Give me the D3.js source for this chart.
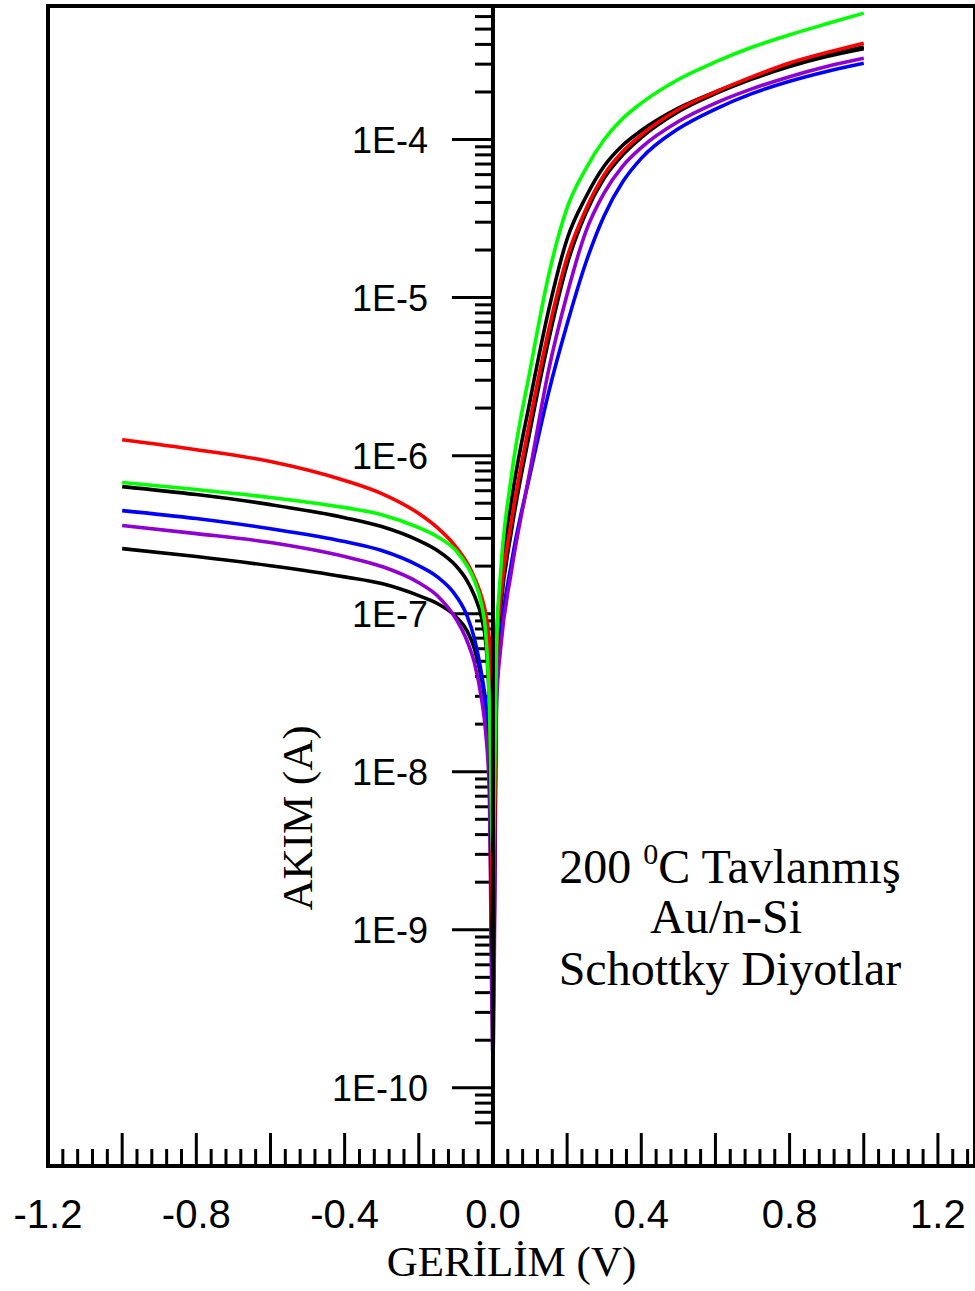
<!DOCTYPE html>
<html><head><meta charset="utf-8">
<script src="https://cdn.jsdelivr.net/npm/d3@7"></script>
<style>body{margin:0;background:#fff}svg{display:block}</style>
</head><body>
<svg id="chart" width="975" height="1291"></svg>
<script>
// Voltage (V)
const voltage = [-1.0, -0.8, -0.6, -0.4, -0.3, -0.2, -0.15, -0.1, -0.07, -0.05, -0.03, -0.02, -0.01, 0, 0.01, 0.02, 0.05, 0.1, 0.15, 0.2, 0.25, 0.3, 0.35, 0.4, 0.5, 0.6, 0.7, 0.8, 0.9, 1.0];
// Current (A) per diode
const currentRed = [1.26e-6, 1.09e-6, 9.18e-7, 6.96e-7, 5.75e-7, 4.30e-7, 3.50e-7, 2.65e-7, 2.10e-7, 1.69e-7, 1.26e-7, 1.01e-7, 6.74e-8, 1.0e-9, 5.83e-8, 1.21e-7, 3.88e-7, 1.67e-6, 6.19e-6, 1.80e-5, 3.6e-5, 6.0e-5, 8.4e-5, 1.07e-4, 1.55e-4, 2.0e-4, 2.5e-4, 3.05e-4, 3.55e-4, 4.07e-4];
const currentGreen = [6.76e-7, 6.10e-7, 5.43e-7, 4.69e-7, 4.23e-7, 3.50e-7, 3.07e-7, 2.51e-7, 2.01e-7, 1.62e-7, 1.12e-7, 7.79e-8, 2.81e-8, 2.94e-9, 6.74e-8, 1.74e-7, 7.48e-7, 3.46e-6, 1.38e-5, 3.7e-5, 6.5e-5, 1.0e-4, 1.36e-4, 1.7e-4, 2.4e-4, 3.1e-4, 3.85e-4, 4.6e-4, 5.4e-4, 6.31e-4];
const currentBlackA = [6.37e-7, 5.67e-7, 4.90e-7, 4.05e-7, 3.56e-7, 2.90e-7, 2.51e-7, 2.01e-7, 1.62e-7, 1.30e-7, 9.29e-8, 6.74e-8, 2.81e-8, 6.0e-10, 6.74e-8, 1.50e-7, 5.20e-7, 2.23e-6, 8.30e-6, 2.35e-5, 4.3e-5, 6.8e-5, 9.2e-5, 1.14e-4, 1.58e-4, 2.0e-4, 2.45e-4, 2.95e-4, 3.42e-4, 3.85e-4];
const currentBlue = [4.49e-7, 4.00e-7, 3.45e-7, 2.86e-7, 2.51e-7, 2.01e-7, 1.71e-7, 1.30e-7, 9.71e-8, 6.95e-8, 4.05e-8, 2.81e-8, 1.36e-8, 4.0e-10, 3.25e-8, 6.74e-8, 2.10e-7, 7.6e-7, 2.5e-6, 6.8e-6, 1.65e-5, 3.3e-5, 5.4e-5, 7.6e-5, 1.17e-4, 1.56e-4, 1.96e-4, 2.34e-4, 2.7e-4, 3.04e-4];
const currentPurple = [3.61e-7, 3.21e-7, 2.82e-7, 2.30e-7, 1.99e-7, 1.57e-7, 1.30e-7, 9.29e-8, 6.74e-8, 4.90e-8, 2.81e-8, 1.82e-8, 7.57e-9, 1.64e-10, 2.81e-8, 5.83e-8, 1.87e-7, 8.05e-7, 3.46e-6, 1.05e-5, 2.6e-5, 4.6e-5, 6.8e-5, 8.9e-5, 1.3e-4, 1.7e-4, 2.1e-4, 2.5e-4, 2.9e-4, 3.27e-4];
const currentBlackB = [2.58e-7, 2.30e-7, 2.01e-7, 1.71e-7, 1.55e-7, 1.30e-7, 1.16e-7, 9.57e-8, 7.79e-8, 6.00e-8, 3.76e-8, 2.61e-8, 1.17e-8, 2.8e-10, 5.04e-8, 1.04e-7, 3.36e-7, 1.44e-6, 5.36e-6, 1.62e-5, 3.4e-5, 5.7e-5, 8.0e-5, 1.03e-4, 1.50e-4, 1.95e-4, 2.42e-4, 2.9e-4, 3.35e-4, 3.75e-4];

const seriesNames = ["blackB", "blue", "purple", "blackA", "red", "green"];
const seriesValues = [currentBlackB, currentBlue, currentPurple, currentBlackA, currentRed, currentGreen];
const seriesColors = ["#000000", "#0000ff", "#9000d0", "#000000", "#ff0000", "#00ff00"];

const xTickValues = [-1.2, -0.8, -0.4, 0.0, 0.4, 0.8, 1.2];
const xTickLabels = ["-1.2", "-0.8", "-0.4", "0.0", "0.4", "0.8", "1.2"];
const yTickValues = [1e-4, 1e-5, 1e-6, 1e-7, 1e-8, 1e-9, 1e-10];
const yTickLabels = ["1E-4", "1E-5", "1E-6", "1E-7", "1E-8", "1E-9", "1E-10"];
const xTitle = "GERİLİM (V)";
const yTitle = "AKIM (A)";
const noteLines = ["Au/n-Si", "Schottky Diyotlar"];

const svg = d3.select("#chart");
const L = 48, R = 975, T = 6, B = 1166;
const x = d3.scaleLinear().domain([-1.2, 1.3]).range([L, R]);
const y = d3.scaleLog().domain([3.2e-11, 7e-4]).range([B, T]);
const x0 = x(0);

// x axis ticks (inward, upward)
const xMajor = d3.range(-12, 13, 2).map(d => d / 10);
const xMinor = d3.range(-30, 33, 1).map(d => d * 0.04).filter(d => d > -1.2 && d < 1.3 && Math.abs(Math.round(d * 5) - d * 5) > 1e-6);
const gx = svg.append("g");
gx.selectAll("line.mj").data(xMajor).join("line")
  .attr("x1", d => x(d)).attr("x2", d => x(d)).attr("y1", B).attr("y2", B - 33)
  .attr("stroke", "#000").attr("stroke-width", 3);
gx.selectAll("line.mn").data(xMinor).join("line")
  .attr("x1", d => x(d)).attr("x2", d => x(d)).attr("y1", B).attr("y2", B - 17)
  .attr("stroke", "#000").attr("stroke-width", 3);
gx.selectAll("text").data(xTickValues).join("text")
  .attr("x", d => x(d)).attr("y", 1228)
  .attr("text-anchor", "middle")
  .attr("font-family", "Liberation Sans, Arial, sans-serif").attr("font-size", 40)
  .text((d, i) => xTickLabels[i]);

// y axis ticks (leftward from the zero line)
const yMinor = [];
for (let e = -11; e <= -4; e++) for (let m = 2; m <= 9; m++) {
  const v = m * Math.pow(10, e);
  if (v > 5.5e-11 && v < 6.9e-4) yMinor.push(v);
}
const gy = svg.append("g");
gy.selectAll("line.mj").data(yTickValues).join("line")
  .attr("x1", x0 - 41).attr("x2", x0).attr("y1", d => y(d)).attr("y2", d => y(d))
  .attr("stroke", "#000").attr("stroke-width", 3);
gy.selectAll("line.mn").data(yMinor).join("line")
  .attr("x1", x0 - 18).attr("x2", x0).attr("y1", d => y(d)).attr("y2", d => y(d))
  .attr("stroke", "#000").attr("stroke-width", 3);
gy.selectAll("text").data(yTickValues).join("text")
  .attr("x", 428).attr("y", d => y(d) + 13)
  .attr("text-anchor", "end")
  .attr("font-family", "Liberation Sans, Arial, sans-serif").attr("font-size", 36)
  .text((d, i) => yTickLabels[i]);

// curves
const line = d3.line().x(d => x(d[0])).y(d => y(d[1])).curve(d3.curveMonotoneX);
svg.append("g").selectAll("path").data(seriesValues).join("path")
  .attr("d", vals => line(voltage.map((v, i) => [v, vals[i]])))
  .attr("fill", "none").attr("stroke", (d, i) => seriesColors[i])
  .attr("stroke-width", 3.6).attr("stroke-linejoin", "round");

// zero axis line
svg.append("line").attr("x1", x0).attr("x2", x0).attr("y1", T).attr("y2", B)
  .attr("stroke", "#000").attr("stroke-width", 4);

// frame
svg.append("rect").attr("x", L).attr("y", T).attr("width", R - L).attr("height", B - T)
  .attr("fill", "none").attr("stroke", "#000").attr("stroke-width", 4);

// titles
svg.append("text").attr("x", (L + R) / 2).attr("y", 1276).attr("text-anchor", "middle")
  .attr("font-family", "Liberation Serif, Times New Roman, serif").attr("font-size", 43)
  .text(xTitle);
svg.append("text").attr("transform", "translate(312,818) rotate(-90)").attr("text-anchor", "middle")
  .attr("font-family", "Liberation Serif, Times New Roman, serif").attr("font-size", 43)
  .text(yTitle);

// annotation
const note = svg.append("text").attr("text-anchor", "middle")
  .attr("font-family", "Liberation Serif, Times New Roman, serif").attr("font-size", 48);
const l1 = note.append("tspan").attr("x", 730).attr("y", 883);
l1.append("tspan").text("200 ");
l1.append("tspan").attr("font-size", 30).attr("dy", -19).text("0");
l1.append("tspan").attr("dy", 19).text("C Tavlanmış");
note.append("tspan").attr("x", 726).attr("y", 933).text(noteLines[0]);
note.append("tspan").attr("x", 730).attr("y", 985).text(noteLines[1]);
</script>
</body></html>
